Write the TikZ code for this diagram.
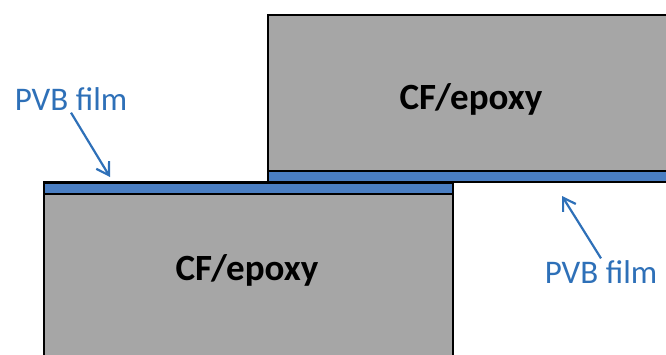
\documentclass[tikz,border=0pt]{standalone}
\usepackage{fontspec}
\setmainfont{Carlito}
\usetikzlibrary{arrows.meta}
\definecolor{plategray}{HTML}{A6A6A6}
\definecolor{filmblue}{HTML}{4A7EC2}
\definecolor{labelblue}{HTML}{2E70B8}
\tikzset{
  plate/.style={draw=black, line width=2.4pt, fill=plategray},
  film/.style={draw=black, line width=2.4pt, fill=filmblue},
  platetext/.style={font=\bfseries\fontsize{37}{42}\selectfont, text=black, inner sep=0pt},
  filmlabel/.style={font=\fontsize{33}{38}\selectfont, text=labelblue, inner sep=0pt},
  pointer/.style={draw=labelblue, line width=2.2pt, -{Straight Barb[length=12pt,width=15pt,line width=2.2pt]}}
}
\begin{document}
\begin{tikzpicture}[x=1pt,y=-1pt]
  \useasboundingbox (0,0) rectangle (666,354);
  \clip (0,0) rectangle (666,354);
  % upper laminate with its interleaf
  \draw[plate] (268,15) rectangle (690,171);
  \draw[film] (268,171) rectangle (690,182);
  % lower laminate with its interleaf
  \draw[film] (44,182.5) rectangle (453,194);
  \draw[plate] (44,194) rectangle (453,380);
  % texts
  \node[platetext] (topcf) at (471,99) {CF/epoxy};
  \node[platetext] (botcf) at (247,270) {CF/epoxy};
  \node[filmlabel] (pvbl) at (71,99) {PVB film};
  \node[filmlabel] (pvbr) at (601,272) {PVB film};
  % pointers to the films
  \coordinate (tipl) at (110,177);
  \coordinate (tipr) at (562,196);
  \draw[pointer] (pvbl.south) ++(0,2) -- (tipl);
  \draw[pointer] (pvbr.north) ++(0,-2) -- (tipr);
\end{tikzpicture}
\end{document}
